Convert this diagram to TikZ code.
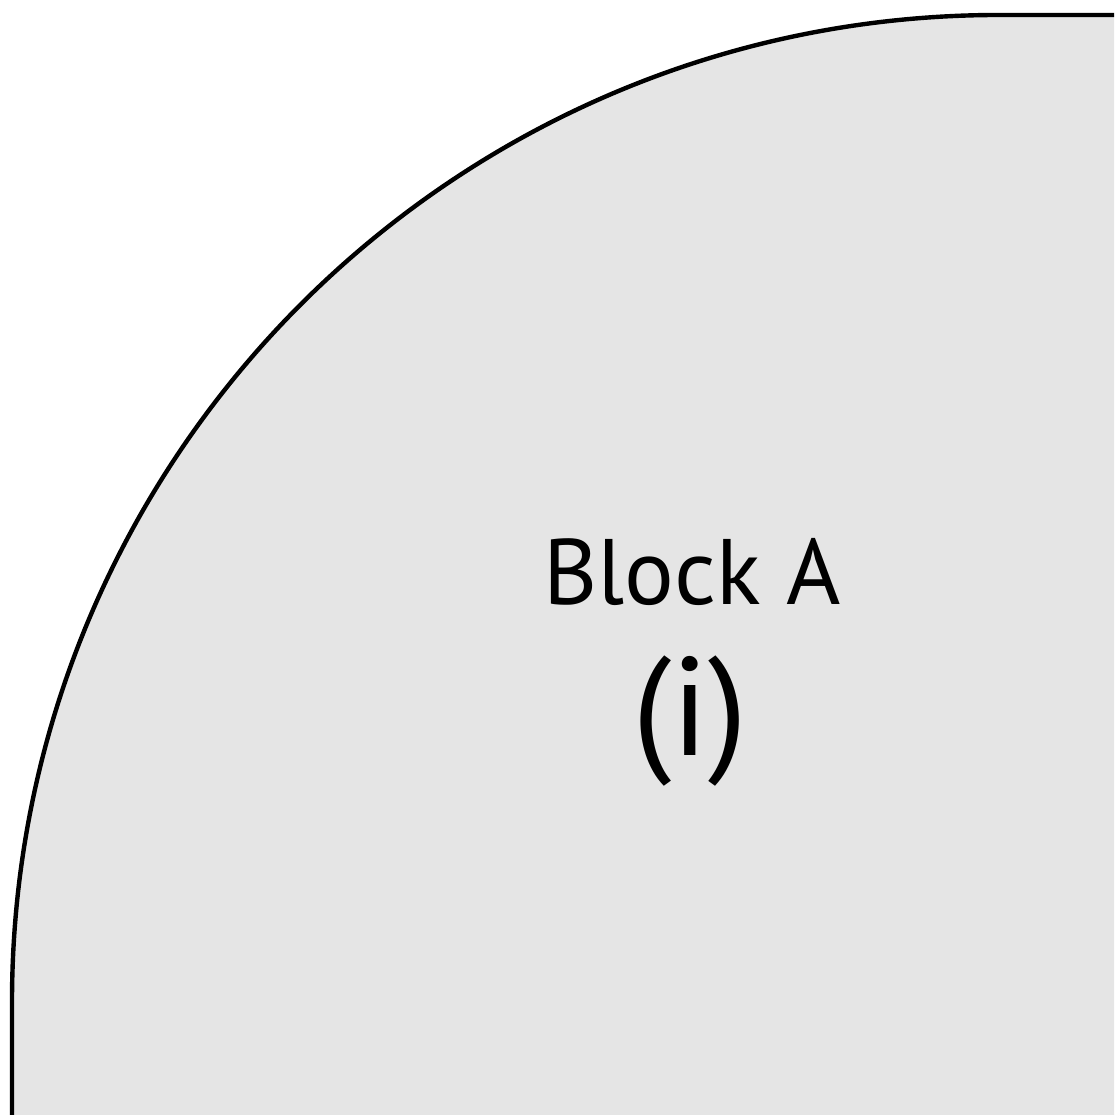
\documentclass[tikz,border=0pt]{standalone}
\usepackage{fontspec}
\setmainfont{PT Sans}
\definecolor{blockfill}{HTML}{E5E5E5}
\tikzset{
  blockshape/.style={draw=black, fill=blockfill, line width=4.4pt},
  blocklabel/.style={inner sep=0pt, anchor=base, text=black}
}
\begin{document}
\begin{tikzpicture}[x=1pt,y=1pt]
\useasboundingbox (0,0) rectangle (1114,1115);
\clip (0,0) rectangle (1114,1115);
\draw[blockshape] (12,-50) -- (12,113) arc[start angle=180, end angle=90, radius=987] -- (1200,1100) -- (1200,-50) -- cycle;
\node[blocklabel, font=\fontsize{93}{93}\selectfont] (title) at (692,510) {Block A};
\node[blocklabel, font=\fontsize{140}{140}\selectfont] (num) at (690,359) {(i)};
\end{tikzpicture}
\end{document}
